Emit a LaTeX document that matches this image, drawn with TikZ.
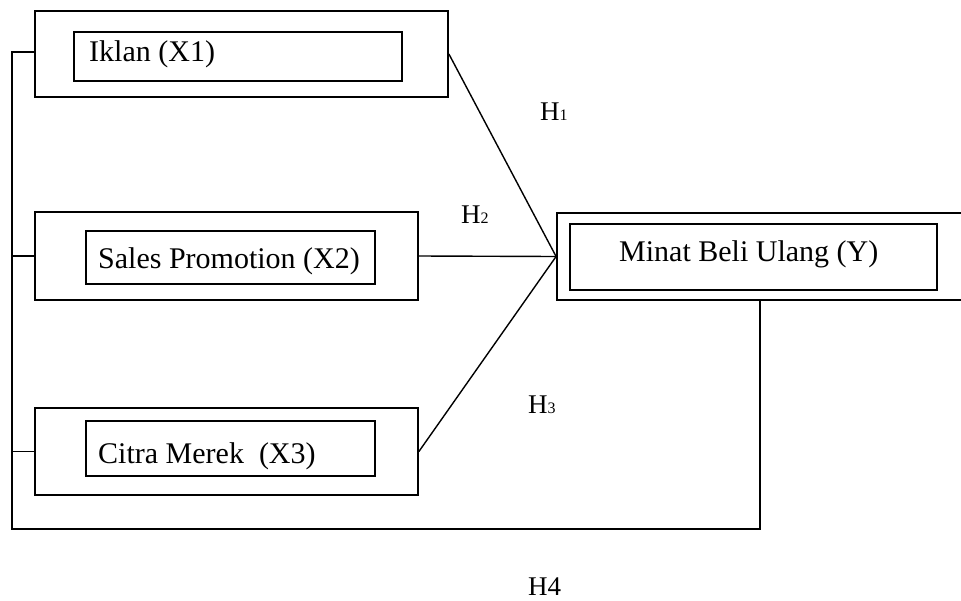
\documentclass[tikz,border=0pt]{standalone}
\usepackage{fontspec}
\setmainfont{Liberation Serif}
\usetikzlibrary{positioning}

\begin{document}
\begin{tikzpicture}[x=1pt, y=-1pt,
    outerbox/.style={draw, line width=1.8pt, inner sep=0pt},
    innerbox/.style={draw, line width=1.2pt, inner sep=0pt},
    var/.style={anchor=base west, inner sep=0pt, font=\fontsize{30}{33}\selectfont},
    hyp/.style={anchor=base west, inner sep=0pt, font=\fontsize{27}{30}\selectfont},
    link/.style={line width=1.4pt}]

    \clip (0,0) rectangle (961,600);

    %nodes
    \node[outerbox, minimum width=413, minimum height=86] (iklan) at (241.5,54) {};
    \node[outerbox, minimum width=383, minimum height=88] (sales) at (226.5,256) {};
    \node[outerbox, minimum width=383, minimum height=87] (citra) at (226.5,451.5) {};
    \node[outerbox, minimum width=406, minimum height=87] (minat) at (760,256.5) {};

    \node[innerbox, minimum width=328, minimum height=49] (iklanIn) at (238,56.5) {};
    \node[innerbox, minimum width=289, minimum height=53] (salesIn) at (230.5,257.5) {};
    \node[innerbox, minimum width=289, minimum height=55] (citraIn) at (230.5,448.5) {};
    \node[innerbox, minimum width=367, minimum height=66] (minatIn) at (753.5,257) {};

    \node[var] (iklanTxt) at (89,61) {Iklan (X1)};
    \node[var] (salesTxt) at (98,268) {Sales Promotion (X2)};
    \node[var] (citraTxt) at (98,463) {Citra Merek~~(X3)};
    \node[var] (minatTxt) at (619,261) {Minat Beli Ulang (Y)};

    % labels
    \node[hyp] (h1) at (540,120) {H{\fontsize{16}{16}\selectfont 1}};
    \node[hyp] (h2) at (461,223) {H{\fontsize{16}{16}\selectfont 2}};
    \node[hyp] (h3) at (528,413) {H{\fontsize{16}{16}\selectfont 3}};
    \node[hyp] (h4) at (528,595) {H4};

    % edges
    \draw[link] (iklan.east) -- (minat.west);
    \draw[link] (sales.east) -- (minat.west);
    \draw[link] (citra.east) -- (minat.west);

    % bus
    \coordinate (busTop) at (12,52);
    \coordinate (busBot) at (12,529);
    \draw[link] (iklan.west |- busTop) -- (busTop) -- (busBot) -| (minat.south);
    \draw[link] (sales.west) -- (sales.west -| busTop);
    \draw[link] (citra.west) -- (citra.west -| busTop);

\end{tikzpicture}
\end{document}
